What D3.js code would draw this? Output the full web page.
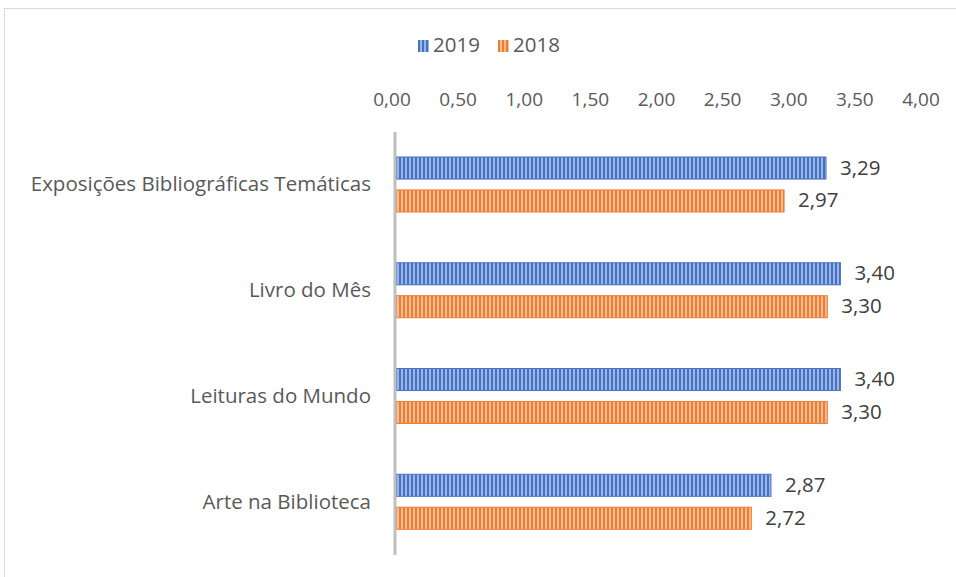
<!DOCTYPE html>
<html>
<head>
<meta charset="utf-8">
<script src="https://cdn.jsdelivr.net/npm/d3@7"></script>
<style>
  body { margin: 0; background: #fff; }
  svg text { font-family: "Open Sans", sans-serif; }
</style>
</head>
<body>
<div id="chart"></div>
<script>
// data
const categories = ["Exposições Bibliográficas Temáticas", "Livro do Mês", "Leituras do Mundo", "Arte na Biblioteca"];
const series = ["2019", "2018"];
const values2019 = [3.29, 3.40, 3.40, 2.87];
const values2018 = [2.97, 3.30, 3.30, 2.72];
const xTicks = [0, 0.5, 1, 1.5, 2, 2.5, 3, 3.5, 4];

const colors = { "2019": ["#4472c4", "#9db5e3"], "2018": ["#ed7d31", "#f6bc94"] };
const fmt = v => d3.format(".2f")(v).replace(".", ",");

const W = 956, H = 577;
const margin = { top: 132, left: 395, right: 37, bottom: 22 };
const width = W - margin.left - margin.right,
  height = H - margin.top - margin.bottom;

const svg = d3.select("#chart").append("svg")
  .attr("width", W).attr("height", H);

// chart frame
svg.append("rect")
  .attr("x", 4.5).attr("y", 8.5)
  .attr("width", 1000).attr("height", 1000)
  .attr("fill", "none").attr("stroke", "#d9d9d9");

// stripe patterns
const defs = svg.append("defs");
series.forEach(s => {
  const p = defs.append("pattern")
    .attr("id", "pat" + s)
    .attr("patternUnits", "userSpaceOnUse")
    .attr("width", 4).attr("height", 4);
  p.append("rect").attr("width", 4).attr("height", 4).attr("fill", colors[s][1]);
  p.append("rect").attr("width", 2).attr("height", 4).attr("fill", colors[s][0]);
});

const g = svg.append("g")
  .attr("transform", "translate(" + margin.left + "," + margin.top + ")");

const xScale = d3.scaleLinear().domain([0, 4]).range([0, 524]);
const tickScale = d3.scaleLinear().domain([0, 4]).range([-3, 526]);
const yScale = d3.scaleBand().domain(categories).range([0, height]);
const inner = d3.scaleBand().domain(series).range([25, 80]).paddingInner(0.33);

// top axis tick labels
g.append("g")
  .selectAll("text")
  .data(xTicks)
  .join("text")
  .attr("x", d => tickScale(d))
  .attr("y", -31)
  .attr("text-anchor", "middle")
  .attr("dominant-baseline", "middle")
  .attr("font-size", 19)
  .attr("fill", "#595959")
  .text(fmt);

// bars
const rows = categories.map((c, i) => ({ cat: c, vals: [values2019[i], values2018[i]] }));
const grp = g.selectAll(".row")
  .data(rows)
  .join("g")
  .attr("transform", d => "translate(0," + yScale(d.cat) + ")");

grp.selectAll("rect")
  .data(d => d.vals.map((v, j) => ({ s: series[j], v })))
  .join("rect")
  .attr("x", 1)
  .attr("y", d => inner(d.s))
  .attr("width", d => xScale(d.v) - 1)
  .attr("height", inner.bandwidth())
  .attr("fill", d => "url(#pat" + d.s + ")")
  .attr("stroke", d => colors[d.s][0])
  .attr("stroke-width", 1);

grp.selectAll(".lbl")
  .data(d => d.vals.map((v, j) => ({ s: series[j], v })))
  .join("text")
  .attr("class", "lbl")
  .attr("x", d => xScale(d.v) + 14)
  .attr("y", d => inner(d.s) + inner.bandwidth() / 2 + 1)
  .attr("dominant-baseline", "middle")
  .attr("font-size", 20.5)
  .attr("fill", "#404040")
  .text(d => fmt(d.v));

// category labels
g.append("g")
  .selectAll("text")
  .data(categories)
  .join("text")
  .attr("x", -24)
  .attr("y", d => yScale(d) + yScale.bandwidth() / 2 + 1)
  .attr("text-anchor", "end")
  .attr("dominant-baseline", "middle")
  .attr("font-size", 20.5)
  .attr("fill", "#595959")
  .text(d => d);

// vertical axis line
g.append("line")
  .attr("x1", 0).attr("x2", 0)
  .attr("y1", 0).attr("y2", height)
  .attr("stroke", "#bfbfbf").attr("stroke-width", 3);

// legend
const legend = svg.append("g").attr("transform", "translate(418,46)");
const li = legend.selectAll("g")
  .data(series)
  .join("g")
  .attr("transform", (d, i) => "translate(" + (i * 80) + ",0)");
li.append("rect")
  .attr("x", 0).attr("y", -6)
  .attr("width", 11).attr("height", 12)
  .attr("fill", d => "url(#pat" + d + ")");
li.append("text")
  .attr("x", 15).attr("y", 1)
  .attr("dominant-baseline", "middle")
  .attr("font-size", 20.5)
  .attr("fill", "#595959")
  .text(d => d);
</script>
</body>
</html>
